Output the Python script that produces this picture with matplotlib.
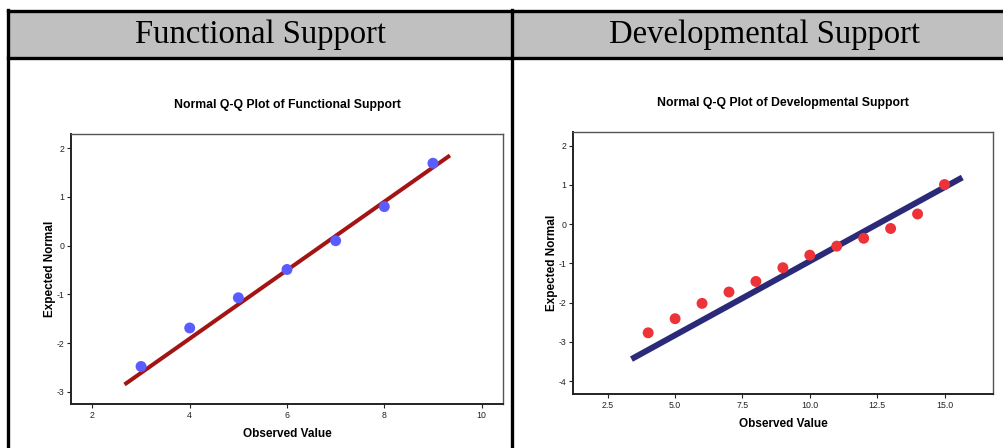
import matplotlib as mpl
import matplotlib.pyplot as plt
from matplotlib.lines import Line2D
from matplotlib.patches import Rectangle

mpl.rcParams.update({'font.family': 'Liberation Sans',
                     'font.size': 7,
                     'axes.unicode_minus': False})

W, H = 1004, 448

# Functional Support
func_obs = [3, 4, 5, 6, 7, 8, 9]
func_exp = [-2.48, -1.69, -1.07, -0.49, 0.10, 0.80, 1.69]
func_line_x = [2.66, 9.35]
func_line_y = [-2.85, 1.85]

# Developmental Support
dev_obs = [4, 5, 6, 7, 8, 9, 10, 11, 12, 13, 14, 15]
dev_exp = [-2.77, -2.41, -2.02, -1.73, -1.46, -1.11, -0.79, -0.56, -0.36, -0.11, 0.26, 1.01]
dev_line_x = [3.38, 15.66]
dev_line_y = [-3.44, 1.19]

headers = ["Functional Support", "Developmental Support"]


def px_box(x0, y0, x1, y1):
    # pixel box (top-left origin) -> figure fraction rect
    return [x0 / W, 1 - y1 / H, (x1 - x0) / W, (y1 - y0) / H]


def fx(x):
    return x / W


def fy(y):
    return 1 - y / H


fig = plt.figure(figsize=(W / 100, H / 100), dpi=100)

# table header band and rules
fig.patches.append(Rectangle((fx(8), fy(58)), fx(W) - fx(8), fy(11) - fy(58),
                             transform=fig.transFigure, facecolor='#c0c0c0',
                             edgecolor='none', zorder=0))
for xs, ys in [([8, W], [11, 11]), ([8, W], [58, 58]),
               ([8, 8], [10, H]), ([512, 512], [10, H])]:
    fig.lines.append(Line2D([fx(v) for v in xs], [fy(v) for v in ys],
                            transform=fig.transFigure, color='black', lw=2.4))

fig.text(fx(261), fy(35), headers[0], family='Liberation Serif', fontsize=23.5,
         ha='center', va='center')
fig.text(fx(765), fy(35), headers[1], family='Liberation Serif', fontsize=23.5,
         ha='center', va='center')


def qq_axes(rect, obs, exp, lx, ly, dot_color, line_color, line_w,
            xlim, ylim, xticks, yticks, xfmt, title, title_pad):
    ax = fig.add_axes(rect)
    ax.plot(lx, ly, color=line_color, lw=line_w, solid_capstyle='butt', zorder=2)
    ax.scatter(obs, exp, s=62, color=dot_color, edgecolors='none', zorder=3)
    ax.set_xlim(xlim)
    ax.set_ylim(ylim)
    ax.set_xticks(xticks, [xfmt.format(v) for v in xticks])
    ax.set_yticks(yticks)
    ax.tick_params(direction='out', length=3, width=0.8, labelsize=6.3,
                   colors='#222222', pad=2)
    for side in ['left', 'bottom']:
        ax.spines[side].set_linewidth(1.4)
        ax.spines[side].set_color('#222222')
    for side in ['top', 'right']:
        ax.spines[side].set_linewidth(1.0)
        ax.spines[side].set_color('#555555')
    ax.set_title(title, fontsize=8.8, fontweight='bold', pad=title_pad)
    ax.set_xlabel("Observed Value", fontsize=8.5, fontweight='bold', labelpad=6)
    ax.set_ylabel("Expected Normal", fontsize=8.5, fontweight='bold', labelpad=0)
    return ax


qq_axes(px_box(71, 134, 503, 404), func_obs, func_exp, func_line_x, func_line_y,
        '#5a5cff', '#a31414', 2.9, (1.56, 10.44), (-3.25, 2.29),
        [2, 4, 6, 8, 10], [-3, -2, -1, 0, 1, 2], '{:d}',
        "Normal Q-Q Plot of Functional Support", 19)

qq_axes(px_box(573, 132, 993, 394), dev_obs, dev_exp, dev_line_x, dev_line_y,
        '#ee3338', '#2b2a78', 4.3, (1.21, 16.8), (-4.33, 2.35),
        [2.5, 5.0, 7.5, 10.0, 12.5, 15.0], [-4, -3, -2, -1, 0, 1, 2], '{:.1f}',
        "Normal Q-Q Plot of Developmental Support", 19)

fig.savefig('out.png', dpi=100)
